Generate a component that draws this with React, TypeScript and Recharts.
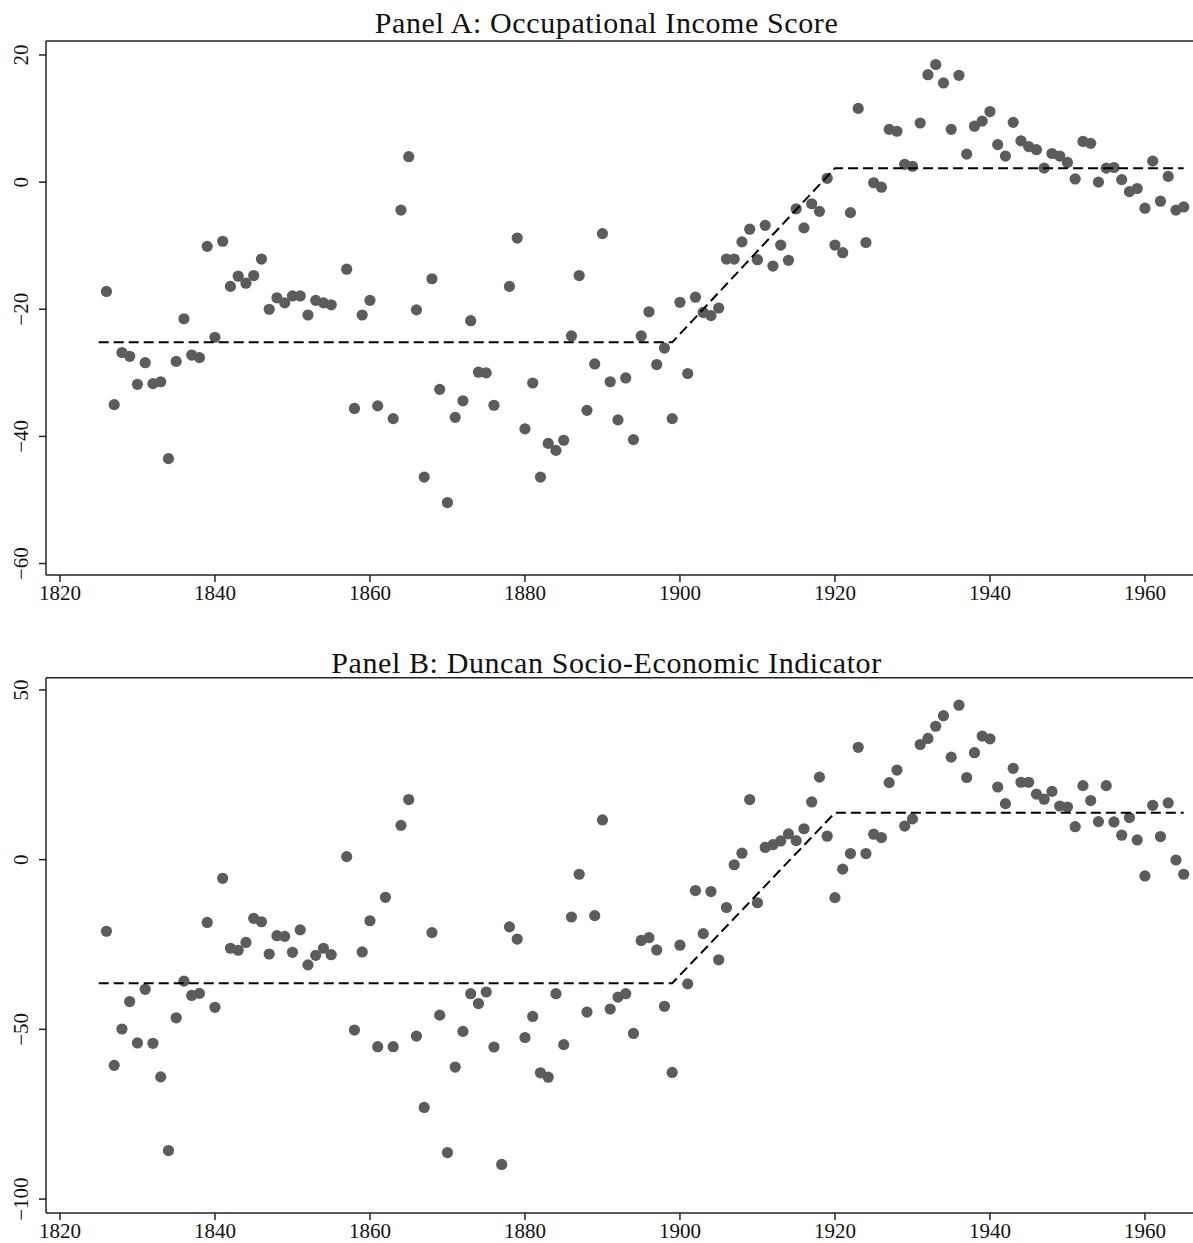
import { ScatterChart, Scatter, XAxis, YAxis, ReferenceLine } from "recharts"

// first year shown in both panels; null = no point for that year
const firstYear = 1826

const incomeScore = [
  -17.2, -35.0, -26.8, -27.4, -31.8, -28.4, -31.7, -31.4, -43.5, -28.2, // 1826-1835
  -21.5, -27.2, -27.6, -10.1, -24.4, -9.3, -16.4, -14.8, -15.9, -14.7, // 1836-1845
  -12.1, -20.0, -18.2, -19.0, -17.9, -17.9, -20.9, -18.6, -19.0, -19.3, // 1846-1855
  null, -13.7, -35.6, -20.9, -18.6, -35.2, null, -37.2, -4.4, 4.0, // 1856-1865
  -20.1, -46.4, -15.2, -32.6, -50.4, -37.0, -34.4, -21.8, -29.9, -30.0, // 1866-1875
  -35.1, null, -16.4, -8.8, -38.8, -31.6, -46.4, -41.1, -42.2, -40.6, // 1876-1885
  -24.2, -14.7, -35.9, -28.6, -8.1, -31.4, -37.4, -30.8, -40.5, -24.2, // 1886-1895
  -20.4, -28.7, -26.1, -37.2, -18.9, -30.1, -18.1, -20.5, -21.0, -19.8, // 1896-1905
  -12.1, -12.1, -9.4, -7.4, -12.2, -6.8, -13.2, -9.9, -12.3, -4.2, // 1906-1915
  -7.2, -3.4, -4.6, 0.6, -9.9, -11.1, -4.8, 11.6, -9.5, -0.1, // 1916-1925
  -0.8, 8.3, 8.0, 2.8, 2.5, 9.3, 16.9, 18.5, 15.6, 8.3, // 1926-1935
  16.8, 4.4, 8.8, 9.6, 11.1, 5.9, 4.1, 9.4, 6.5, 5.6, // 1936-1945
  5.1, 2.2, 4.5, 4.1, 3.1, 0.5, 6.4, 6.1, 0.0, 2.2, // 1946-1955
  2.3, 0.4, -1.5, -1.0, -4.1, 3.3, -3.0, 0.9, -4.4, -3.9, // 1956-1965
]

const duncanIndex = [
  -21.1, -60.6, -49.9, -41.8, -54.0, -38.2, -54.1, -64.0, -85.7, -46.6, // 1826-1835
  -35.8, -40.0, -39.4, -18.5, -43.5, -5.5, -26.1, -26.7, -24.4, -17.3, // 1836-1845
  -18.3, -27.8, -22.4, -22.6, -27.3, -20.7, -31.0, -28.2, -26.1, -28.0, // 1846-1855
  null, 0.9, -50.2, -27.2, -18.0, -55.1, -11.1, -55.1, 10.1, 17.7, // 1856-1865
  -52.0, -73.0, -21.5, -45.8, -86.3, -61.1, -50.6, -39.5, -42.4, -39.0, // 1866-1875
  -55.2, -89.8, -19.8, -23.4, -52.4, -46.2, -62.8, -64.1, -39.5, -54.5, // 1876-1885
  -16.9, -4.3, -44.9, -16.5, 11.7, -44.0, -40.5, -39.5, -51.2, -23.8, // 1886-1895
  -23.0, -26.6, -43.2, -62.7, -25.2, -36.6, -9.1, -21.8, -9.4, -29.5, // 1896-1905
  -14.1, -1.5, 1.9, 17.7, -12.7, 3.6, 4.4, 5.5, 7.6, 5.6, // 1906-1915
  9.1, 17.0, 24.3, 6.9, -11.2, -2.8, 1.8, 33.1, 1.8, 7.5, // 1916-1925
  6.5, 22.7, 26.4, 9.9, 12.0, 33.9, 35.7, 39.3, 42.4, 30.2, // 1926-1935
  45.5, 24.2, 31.5, 36.4, 35.6, 21.4, 16.5, 26.9, 22.8, 22.8, // 1936-1945
  19.3, 17.8, 20.1, 15.8, 15.5, 9.7, 21.8, 17.4, 11.2, 21.8, // 1946-1955
  11.1, 7.2, 12.4, 5.8, -4.8, 16.0, 6.8, 16.7, -0.1, -4.3, // 1956-1965
]

// piecewise linear fit (break points)
const fitYears = [1825, 1899, 1920, 1965]
const fitIncome = [-25.2, -25.2, 2.2, 2.2]
const fitDuncan = [-36.4, -36.4, 13.8, 13.8]

const xTicks = [1820, 1840, 1860, 1880, 1900, 1920, 1940, 1960]
const yTicksA = [-60, -40, -20, 0, 20]
const yTicksB = [-100, -50, 0, 50]

const FONT = "'Liberation Serif', 'Times New Roman', serif"
const DOT = "#5c5c5c"
const AXIS = "#222"

const toPoints = (vals: (number | null)[]) =>
  vals
    .map((v, i) => ({ year: firstYear + i, value: v }))
    .filter((d) => d.value !== null)

const toFit = (vals: number[]) => fitYears.map((year, i) => ({ year, value: vals[i] }))

const fmt = (v: number) => (v < 0 ? `\u2212${-v}` : `${v}`)

function YTick(props: any) {
  const { x, y, payload } = props
  const bx = x - 9
  return (
    <text
      x={bx}
      y={y}
      transform={`rotate(-90, ${bx}, ${y})`}
      textAnchor="middle"
      fontFamily={FONT}
      fontSize={21}
      fill="#111"
    >
      {fmt(payload.value)}
    </text>
  )
}

const Dot = (p: any) => <circle cx={p.cx} cy={p.cy} r={5.6} fill={DOT} />

interface PanelProps {
  title: string
  points: { year: number; value: number | null }[]
  fit: { year: number; value: number }[]
  yDomain: [number, number]
  yTicks: number[]
  top: number
  height: number
  marginTop: number
  axisHeight: number
  titleTop: number
}

function Panel({ title, points, fit, yDomain, yTicks, top, height, marginTop, axisHeight, titleTop }: PanelProps) {
  return (
    <>
      <div
        style={{
          position: "absolute",
          left: 0,
          top: titleTop,
          width: 1213,
          textAlign: "center",
          fontFamily: FONT,
          fontSize: 30,
          lineHeight: "30px",
          letterSpacing: 0.6,
          color: "#111",
          whiteSpace: "nowrap",
        }}
      >
        {title}
      </div>
      <div style={{ position: "absolute", left: 0, top }}>
        <ScatterChart width={1193} height={height} margin={{ top: marginTop, right: 0, bottom: 0, left: 0 }}>
          <XAxis
            type="number"
            dataKey="year"
            domain={[1818.2, 1966.2]}
            ticks={xTicks}
            allowDataOverflow
            height={axisHeight}
            tickSize={7}
            tickMargin={3}
            stroke={AXIS}
            strokeWidth={1.5}
            tick={{ fontFamily: FONT, fontSize: 21, fill: "#111" }}
          />
          <YAxis
            type="number"
            dataKey="value"
            domain={yDomain}
            ticks={yTicks}
            allowDataOverflow
            width={46}
            tickSize={7}
            stroke={AXIS}
            strokeWidth={1.5}
            tick={<YTick />}
          />
          <ReferenceLine y={yDomain[1]} stroke={AXIS} strokeWidth={1.5} ifOverflow="visible" />
          <Scatter data={points} shape={Dot} isAnimationActive={false} />
          <Scatter
            data={fit}
            line={{ stroke: "#000", strokeWidth: 2, strokeDasharray: "10 5" }}
            lineType="joint"
            shape={() => <g />}
            isAnimationActive={false}
          />
        </ScatterChart>
      </div>
    </>
  )
}

export default function App() {
  return (
    <div
      style={{
        position: "absolute",
        left: 0,
        top: 0,
        width: 1193,
        height: 1243,
        overflow: "hidden",
        background: "#fff",
      }}
    >
      <Panel
        title="Panel A: Occupational Income Score"
        points={toPoints(incomeScore)}
        fit={toFit(fitIncome)}
        yDomain={[-61.8, 22.2]}
        yTicks={yTicksA}
        top={0}
        height={610}
        marginTop={41}
        axisHeight={35}
        titleTop={8}
      />
      <Panel
        title="Panel B: Duncan Socio-Economic Indicator"
        points={toPoints(duncanIndex)}
        fit={toFit(fitDuncan)}
        yDomain={[-104.1, 53.6]}
        yTicks={yTicksB}
        top={640}
        height={603}
        marginTop={37.7}
        axisHeight={30}
        titleTop={648}
      />
    </div>
  )
}
